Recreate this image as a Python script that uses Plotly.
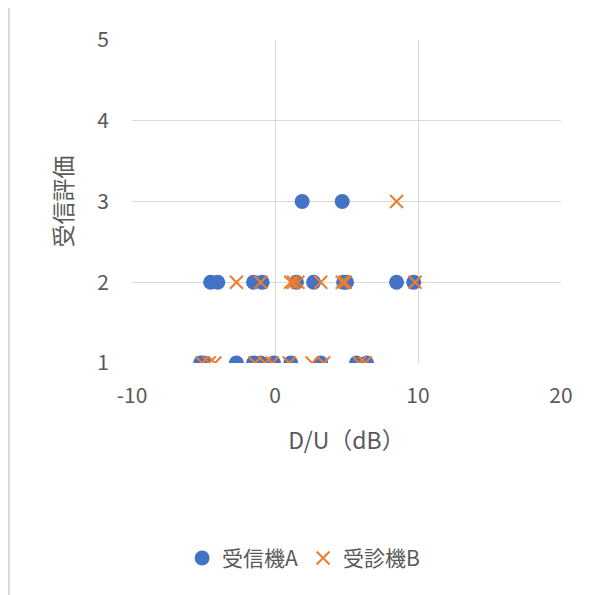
import plotly.graph_objects as go

series_a_name = "受信機A"
series_b_name = "受診機B"

a_x = [-5.2, -5.0, -2.7, -1.5, -1.0, -0.1, 1.1, 3.2, 5.7, 6.4,
       -4.5, -4.0, -1.5, -0.9, 1.5, 2.7, 4.8, 5.0, 8.5, 9.7,
       1.9, 4.7]
a_y = [1, 1, 1, 1, 1, 1, 1, 1, 1, 1,
       2, 2, 2, 2, 2, 2, 2, 2, 2, 2,
       3, 3]

b_x = [-5.1, -4.6, -4.2, -1.4, -0.7, -0.2, 1.0, 2.6, 3.4, 5.9, 6.3,
       -2.7, -1.0, 1.1, 1.3, 1.6, 3.2, 4.7, 4.9, 9.8,
       8.5]
b_y = [1, 1, 1, 1, 1, 1, 1, 1, 1, 1, 1,
       2, 2, 2, 2, 2, 2, 2, 2, 2,
       3]

x_ticks = [-10, 0, 10, 20]
x_tick_labels = ["-10", "0", "10", "20"]
y_ticks = [1, 2, 3, 4, 5]

FONT = "Noto Sans CJK JP"
GREY = "#595959"

fig = go.Figure()
fig.add_trace(go.Scatter(
    x=a_x, y=a_y, mode="markers", name=series_a_name,
    marker=dict(symbol="circle", size=15, color="#4472C4"),
))
fig.add_trace(go.Scatter(
    x=b_x, y=b_y, mode="markers", name=series_b_name,
    marker=dict(symbol="x-thin", size=13, color="#ED7D31",
                line=dict(color="#ED7D31", width=2)),
))

fig.update_layout(
    width=591, height=587,
    margin=dict(l=124, r=38, t=32, b=232),
    paper_bgcolor="white", plot_bgcolor="white",
    font=dict(family=FONT, color=GREY, size=21),
    showlegend=True,
    legend=dict(orientation="h", x=0.40, y=-0.605, xanchor="center", yanchor="middle",
                font=dict(size=21, color=GREY), itemwidth=30, tracegroupgap=0),
    xaxis=dict(range=[-10, 20], tickvals=x_ticks, ticktext=x_tick_labels,
               showgrid=True, gridcolor="#d9d9d9",
               gridwidth=1, zeroline=False, showline=False, ticks="",
               ticklabelstandoff=18, tickfont=dict(size=21, color=GREY),
               title=dict(text="D/U（dB）", font=dict(size=23, color=GREY), standoff=24)),
    yaxis=dict(range=[1, 5], tickvals=y_ticks, showgrid=True, gridcolor="#d9d9d9",
               gridwidth=1, zeroline=False, showline=False, ticks="",
               ticklabelstandoff=22, tickfont=dict(size=21, color=GREY),
               title=dict(text="受信評価", font=dict(size=23, color=GREY), standoff=18)),
    shapes=[dict(type="line", xref="paper", yref="paper", x0=-0.287, x1=-0.287,
                 y0=-0.72, y1=1.124, line=dict(color="#d9d9d9", width=2))],
)

fig.write_html("out.html")
